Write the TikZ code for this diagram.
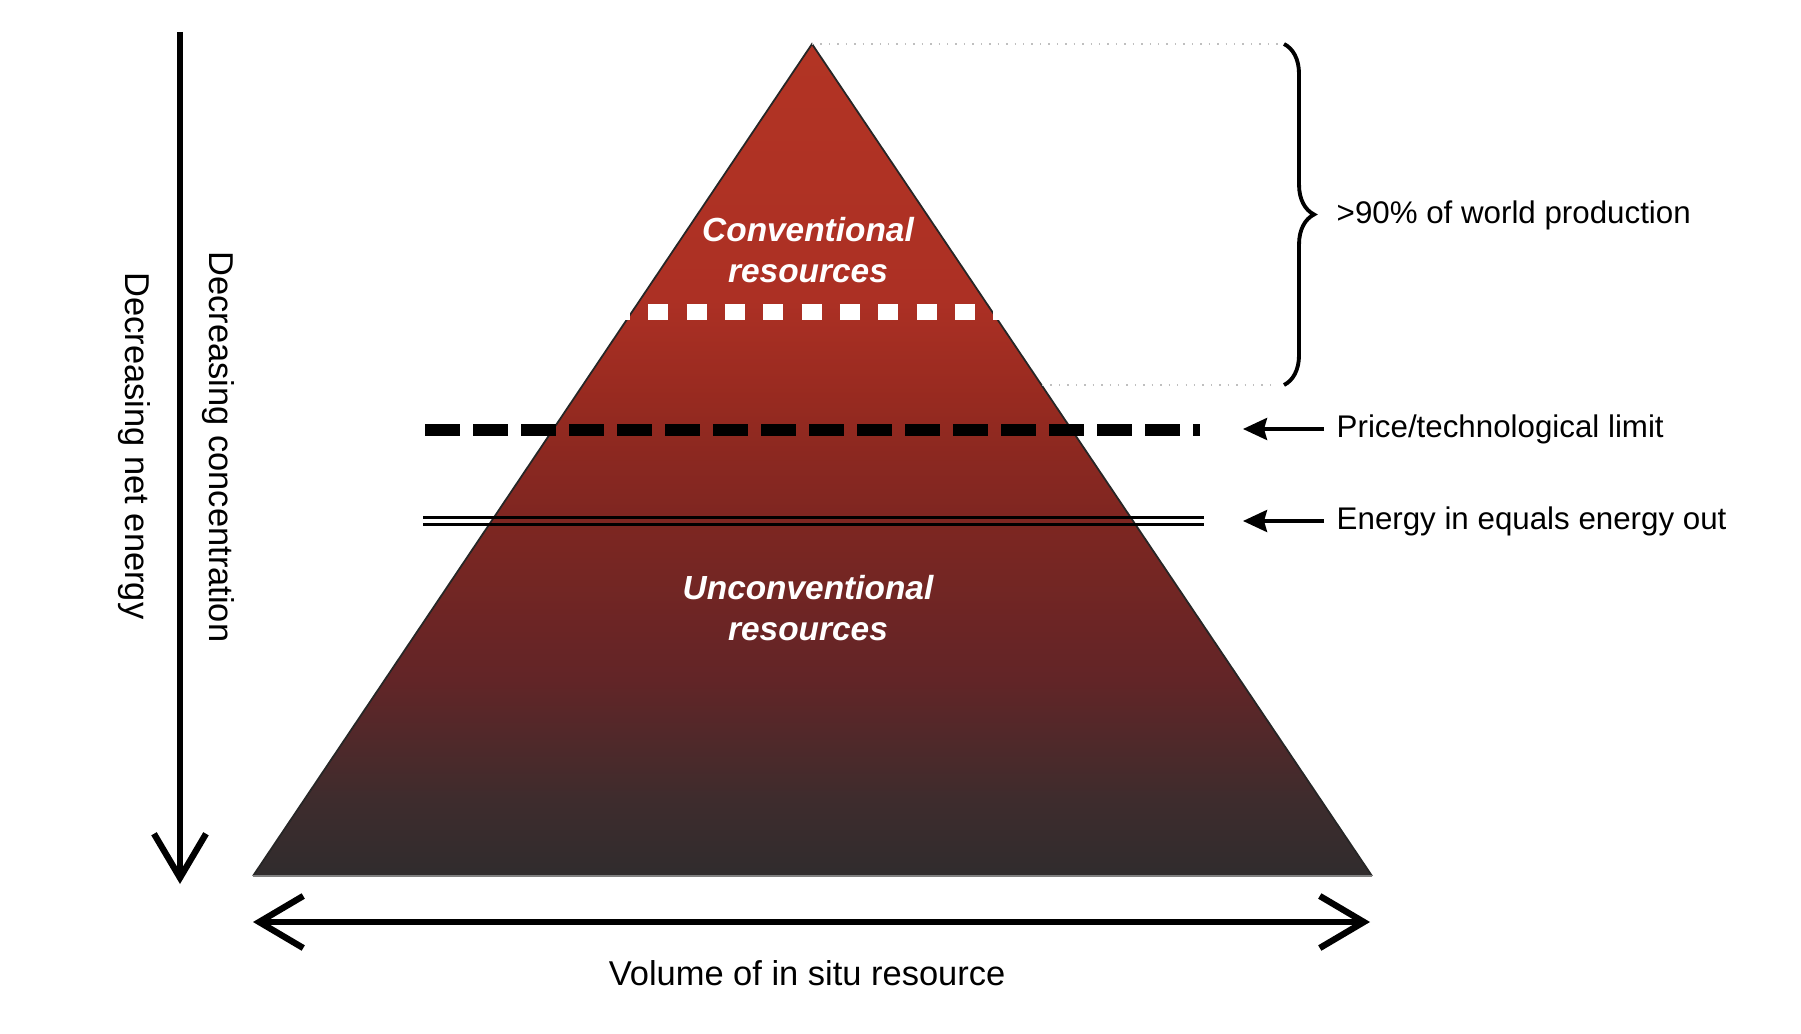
\documentclass[tikz,border=0pt]{standalone}
\usepackage{fontspec}
\setmainfont{Liberation Sans}
\usepackage{tikz}
\usetikzlibrary{arrows.meta, decorations.pathreplacing}

\definecolor{pyrA}{HTML}{B23424}
\definecolor{pyrB}{HTML}{AC3024}
\definecolor{pyrC}{HTML}{972A20}
\definecolor{pyrD}{HTML}{7E2621}
\definecolor{pyrE}{HTML}{622527}
\definecolor{pyrF}{HTML}{3E2C2D}
\definecolor{pyrG}{HTML}{302C2D}
\pgfdeclareverticalshading{pyramid}{100bp}{color(0bp)=(pyrG); color(25bp)=(pyrG); color(29.6bp)=(pyrF); color(36.8bp)=(pyrE); color(46.4bp)=(pyrD); color(53.6bp)=(pyrC); color(59.6bp)=(pyrB); color(75bp)=(pyrA); color(100bp)=(pyrA)}

\begin{document}
\begin{tikzpicture}[x=0.01cm, y=-0.01cm]
\tikzstyle{sidetext}=[font=\fontsize{8.9}{10}\selectfont, anchor=west, inner sep=0pt]
\tikzstyle{axistext}=[font=\fontsize{9.8}{11}\selectfont, inner sep=0pt]
\tikzstyle{pyrtext}=[font=\fontsize{9.5}{11.9}\selectfont\bfseries\itshape, text=white, align=center, inner sep=0pt]
\tikzstyle{pointer}=[line width=1pt, -{Stealth[length=0.24cm, width=0.22cm, inset=0.03cm]}, shorten <=0.12cm]
\tikzstyle{axisarrow}=[line width=1.8pt]
\useasboundingbox (0,0) rectangle (1801,1034);

\coordinate (apex) at (812,44);
\coordinate (bl) at (253,876);
\coordinate (br) at (1372,876);
\shade[shading=pyramid] (apex) -- (br) -- (bl) -- cycle;
\draw[black!85, line width=0.5pt] (bl) -- (apex) -- (br);
\draw[gray, line width=0.5pt] (bl) -- (br);

% limits across the pyramid
\draw[white, line width=0.15cm, dash pattern=on 0.2cm off 0.183cm] (610,312) -- (1013,312);
\draw[line width=0.11cm, dash pattern=on 0.35cm off 0.13cm] (425,430) -- (1200,430);
\draw[line width=0.025cm] (423,517.5) -- (1204,517.5);
\draw[line width=0.025cm] (423,524.5) -- (1204,524.5);

\node[pyrtext] (conv) at (808,250) {Conventional\\resources};
\node[pyrtext] (unconv) at (808,608) {Unconventional\\resources};

% brace and guide lines
\coordinate (brace-top) at (1284,44);
\coordinate (brace-bot) at (1284,385);
\coordinate (conv-edge) at (1042,385);
\draw[gray!50, dotted, line width=0.4pt] (apex) -- ([xshift=-0.06cm]brace-top);
\draw[gray!50, dotted, line width=0.4pt] (conv-edge) -- ([xshift=-0.06cm]brace-bot);
\draw[decorate, decoration={brace, amplitude=0.3cm}, line width=1.1pt] (brace-top) -- (brace-bot);

\node[sidetext] (share) at (1336,215) {>90\% of world production};
\node[sidetext] (limit) at (1336,429) {Price/technological limit};
\node[sidetext] (balance) at (1336,521) {Energy in equals energy out};
\coordinate (limit-tip) at (1243,429);
\coordinate (balance-tip) at (1243,521);
\draw[pointer] (limit.west) -- (limit-tip);
\draw[pointer] (balance.west) -- (balance-tip);

% axes
\coordinate (v-top) at (180,32);
\coordinate (v-bot) at (180,884);
\coordinate (h-left) at (253,922);
\coordinate (h-right) at (1370,922);
\draw[axisarrow, -{Straight Barb[length=0.44cm, width=0.52cm]}] (v-top) -- (v-bot);
\draw[axisarrow, {Straight Barb[length=0.44cm, width=0.52cm]}-{Straight Barb[length=0.44cm, width=0.52cm]}] (h-left) -- (h-right);

\node[axistext, rotate=-90] (conc) at (218,447) {Decreasing concentration};
\node[axistext, rotate=-90] (nete) at (134,446) {Decreasing net energy};
\node[axistext] (volume) at (807,973) {Volume of in situ resource};

\end{tikzpicture}
\end{document}
